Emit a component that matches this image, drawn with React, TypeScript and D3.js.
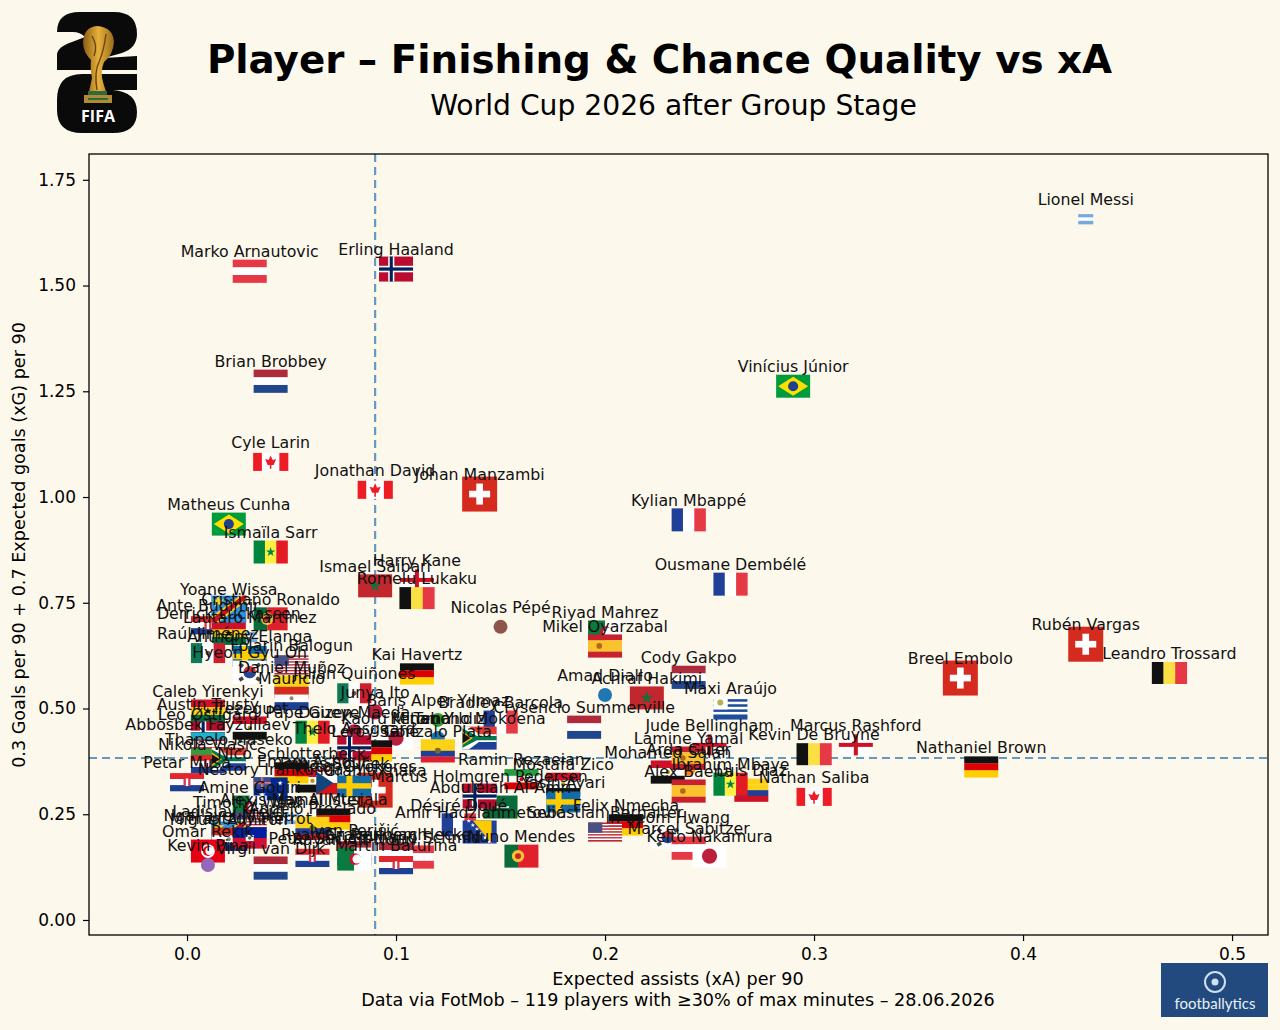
import { useEffect, useRef } from 'react'
import * as d3 from 'd3'

const width = 1280
const height = 1030
const bg = '#fdf8ec'
const font = '"DejaVu Sans", sans-serif'

const xTicks = [0, 0.1, 0.2, 0.3, 0.4, 0.5]
const yTicks = [0, 0.25, 0.5, 0.75, 1, 1.25, 1.5, 1.75]
const xMedian = 0.09
const yMedian = 0.383

const playerNames = [
  "Lionel Messi", "Marko Arnautovic", "Erling Haaland", "Brian Brobbey", "Vinícius Júnior", "Cyle Larin", "Jonathan David", "Johan Manzambi", "Kylian Mbappé", "Matheus Cunha",
  "Ismaïla Sarr", "Ousmane Dembélé", "Harry Kane", "Ismael Saibari", "Romelu Lukaku", "Nicolas Pépé", "Riyad Mahrez", "Mikel Oyarzabal", "Rubén Vargas", "Leandro Trossard",
  "Breel Embolo", "Kai Havertz", "Cody Gakpo", "Amad Diallo", "Achraf Hakimi", "Maxi Araújo", "Crysencio Summerville", "Barış Alper Yılmaz", "Bradley Barcola", "Junya Ito",
  "Daizen Maeda", "Kaoru Mitoma", "Kenan Yıldız", "Teboho Mokoena", "Gonzalo Plata", "Leroy Sané", "Thelo Aasgaard", "Ramin Rezaeian", "Mostafa Zico", "Yasin Ayari",
  "Abdulelah Al-Amri", "Marcus Holmgren Pedersen", "Désiré Doué", "Amir Hadžiahmetović", "Felix Nmecha", "Sebastian Berhalter", "In-beom Hwang", "Marcel Sabitzer", "Keito Nakamura", "Nuno Mendes",
  "Romano Schmid", "Jan Paul van Hecke", "Martin Baturina", "Arda Güler", "Mohamed Salah", "Jude Bellingham", "Lamine Yamal", "Alex Baena", "Luis Díaz", "Ibrahim Mbaye",
  "Nathan Saliba", "Kevin De Bruyne", "Marcus Rashford", "Nathaniel Brown", "Lautaro Martínez", "Ante Budimir", "Derrick Luckassen", "Yoane Wissa", "Cristiano Ronaldo", "Anthony Elanga",
  "Raúl Jiménez", "Hyeon Gyu Oh", "Daniel Muñoz", "Mauricio", "Folarin Balogun", "Julián Quiñones", "Austin Trusty", "Caleb Yirenkyi", "Leo Østigård", "Trezeguet",
  "Pape Gueye", "Abbosbek Fayzullaev", "Nikola Vlašić", "Thapelo Maseko", "Petar Musa", "Emam Ashour", "Nico Schlotterbeck", "Nestory Irankunda", "Tomáš Souček", "Granit Xhaka",
  "Viktor Gyökeres", "Amine Gouiri", "Alexis Mac Allister", "Timothy Weah", "Ladislav Krejčí", "Ngal'ayel Mukau", "Miguel Almirón", "Jamal Musiala", "Angelo Preciado", "Ivan Perišić",
  "Ryan Gravenberch", "Virgil van Dijk", "Petar Sučić", "Rayan Aït-Nouri", "Frantzdy Pierrot", "Omar Rekik", "Kevin Pina",
]

const playerNations = [
  "ARG", "AUT", "NOR", "NED", "BRA", "CAN", "CAN", "SUI", "FRA", "BRA",
  "SEN", "FRA", "ENG", "MAR", "BEL", "CIV", "ALG", "ESP", "SUI", "BEL",
  "SUI", "GER", "NED", "CIV", "MAR", "URU", "NED", "TUR", "FRA", "JPN",
  "JPN", "JPN", "TUR", "RSA", "ECU", "GER", "NOR", "IRN", "EGY", "SWE",
  "KSA", "NOR", "FRA", "BIH", "GER", "USA", "KOR", "AUT", "JPN", "POR",
  "AUT", "NED", "CRO", "TUR", "EGY", "ENG", "ESP", "ESP", "COL", "SEN",
  "CAN", "BEL", "ENG", "GER", "ARG", "CRO", "GHA", "COD", "POR", "SWE",
  "MEX", "KOR", "COL", "PAR", "USA", "MEX", "USA", "GHA", "NOR", "EGY",
  "SEN", "UZB", "CRO", "RSA", "CRO", "EGY", "GER", "AUS", "CZE", "SUI",
  "SWE", "ALG", "ARG", "USA", "CZE", "COD", "PAR", "GER", "ECU", "CRO",
  "NED", "NED", "CRO", "ALG", "HAI", "TUN", "CPV",
]

const xaPer90 = [
  0.43, 0.03, 0.10, 0.04, 0.29, 0.04, 0.09, 0.14, 0.24, 0.02,
  0.04, 0.26, 0.11, 0.09, 0.11, 0.15, 0.20, 0.20, 0.43, 0.47,
  0.37, 0.11, 0.24, 0.20, 0.22, 0.26, 0.19, 0.12, 0.15, 0.09,
  0.08, 0.10, 0.12, 0.14, 0.12, 0.09, 0.08, 0.16, 0.18, 0.18,
  0.15, 0.14, 0.13, 0.14, 0.21, 0.20, 0.23, 0.24, 0.25, 0.16,
  0.11, 0.10, 0.10, 0.24, 0.23, 0.25, 0.24, 0.24, 0.27, 0.26,
  0.30, 0.30, 0.32, 0.38, 0.03, 0.01, 0.02, 0.02, 0.04, 0.03,
  0.01, 0.03, 0.05, 0.05, 0.05, 0.08, 0.01, 0.01, 0.01, 0.03,
  0.06, 0.01, 0.01, 0.02, 0.00, 0.06, 0.05, 0.04, 0.07, 0.09,
  0.08, 0.03, 0.05, 0.03, 0.02, 0.02, 0.02, 0.07, 0.06, 0.08,
  0.08, 0.04, 0.06, 0.08, 0.03, 0.01, 0.01,
]

const finishingScore = [
  1.657, 1.534, 1.539, 1.274, 1.262, 1.083, 1.017, 1.007, 0.946, 0.936,
  0.870, 0.794, 0.804, 0.790, 0.761, 0.693, 0.681, 0.648, 0.652, 0.584,
  0.572, 0.582, 0.574, 0.532, 0.525, 0.501, 0.456, 0.473, 0.468, 0.492,
  0.445, 0.430, 0.430, 0.430, 0.400, 0.400, 0.407, 0.333, 0.321, 0.279,
  0.267, 0.293, 0.225, 0.208, 0.225, 0.208, 0.196, 0.170, 0.151, 0.151,
  0.149, 0.156, 0.130, 0.358, 0.350, 0.414, 0.383, 0.305, 0.307, 0.321,
  0.291, 0.392, 0.414, 0.362, 0.669, 0.697, 0.678, 0.735, 0.712, 0.623,
  0.631, 0.586, 0.551, 0.524, 0.603, 0.536, 0.463, 0.494, 0.440, 0.454,
  0.444, 0.416, 0.369, 0.380, 0.326, 0.329, 0.348, 0.310, 0.324, 0.307,
  0.317, 0.267, 0.239, 0.232, 0.210, 0.201, 0.191, 0.239, 0.217, 0.165,
  0.156, 0.123, 0.147, 0.144, 0.194, 0.163, 0.130,
]

// players without a flag image get a plain dot
const dotColors: Record<string, string> = {
  'Nicolas Pépé': '#8c564b',
  'Amad Diallo': '#1f77b4',
  'Kevin Pina': '#9467bd',
  'Barış Alper Yılmaz': '#2ca02c',
  'Kenan Yıldız': '#1f77b4',
  'Arda Güler': '#ff7f0e',
}

const flagSizes: Record<string, [number, number]> = {
  ARG: [15, 10], SUI: [35, 35], COD: [35, 27], NOR: [34, 25], CAN: [35, 18], CRO: [34, 18],
  USA: [34, 19], MEX: [34, 20], GER: [34, 21], BEL: [35, 22], SWE: [34, 21], ENG: [34, 21],
  HAI: [34, 21], IRN: [34, 20],
}

type Stripe = { dir: 'h' | 'v'; colors: string[] }
const flagStripes: Record<string, Stripe> = {
  ARG: { dir: 'h', colors: ['#75aadb', '#fff', '#75aadb'] },
  AUT: { dir: 'h', colors: ['#e63946', '#fff', '#e63946'] },
  NED: { dir: 'h', colors: ['#ae2b3c', '#fff', '#21468b'] },
  GER: { dir: 'h', colors: ['#111', '#dd0000', '#ffce00'] },
  FRA: { dir: 'v', colors: ['#1f3f99', '#fff', '#e63946'] },
  BEL: { dir: 'v', colors: ['#111', '#fae042', '#e63946'] },
  CAN: { dir: 'v', colors: ['#ee1c25', '#fff', '#fff', '#ee1c25'] },
  MEX: { dir: 'v', colors: ['#0b7a55', '#fff', '#ce1f30'] },
  SEN: { dir: 'v', colors: ['#00853f', '#fdef42', '#e31b23'] },
  CRO: { dir: 'h', colors: ['#e0272d', '#fff', '#1d3f94'] },
  PAR: { dir: 'h', colors: ['#d52b1e', '#fff', '#1d3f94'] },
  EGY: { dir: 'h', colors: ['#ce1126', '#fff', '#111'] },
  IRN: { dir: 'h', colors: ['#239f40', '#fff', '#da0000'] },
  GHA: { dir: 'h', colors: ['#ce1126', '#fcd116', '#006b3f'] },
  HAI: { dir: 'h', colors: ['#00209f', '#d21034'] },
  UZB: { dir: 'h', colors: ['#1eb1c9', '#fff', '#2e9e3f'] },
  ESP: { dir: 'h', colors: ['#c8202f', '#f9c22e', '#f9c22e', '#c8202f'] },
  COL: { dir: 'h', colors: ['#fcd116', '#fcd116', '#233f93', '#ce1126'] },
  ECU: { dir: 'h', colors: ['#fcd116', '#fcd116', '#1f3f99', '#e0202e'] },
}

function addStar(g: any, cx: number, cy: number, r: number, fill: string) {
  g.append('path')
    .attr('transform', `translate(${cx},${cy})`)
    .attr('d', d3.symbol(d3.symbolStar, Math.PI * r * r)())
    .attr('fill', fill)
}

function addRect(g: any, x: number, y: number, w: number, h: number, fill: string) {
  return g.append('rect').attr('x', x).attr('y', y).attr('width', w).attr('height', h).attr('fill', fill)
}

function addDisc(g: any, cx: number, cy: number, r: number, fill: string) {
  return g.append('circle').attr('cx', cx).attr('cy', cy).attr('r', r).attr('fill', fill)
}

function addPoly(g: any, pts: number[][], fill: string) {
  return g.append('polygon').attr('points', pts.map((p) => p.join(',')).join(' ')).attr('fill', fill)
}

function nordicCross(g: any, w: number, h: number, base: string, outer: string, inner?: string) {
  const cx = w * 0.36
  addRect(g, 0, 0, w, h, base)
  addRect(g, cx - w * 0.09, 0, w * 0.18, h, outer)
  addRect(g, 0, h / 2 - h * 0.13, w, h * 0.26, outer)
  if (inner) {
    addRect(g, cx - w * 0.045, 0, w * 0.09, h, inner)
    addRect(g, 0, h / 2 - h * 0.065, w, h * 0.13, inner)
  }
}

function crescent(g: any, cx: number, cy: number, r: number, color: string, back: string) {
  addDisc(g, cx, cy, r, color)
  addDisc(g, cx + r * 0.3, cy, r * 0.78, back)
}

// one flag, drawn in a w x h box with its corner at 0,0
function drawFlag(g: any, code: string, w: number, h: number) {
  const stripe = flagStripes[code]
  if (stripe) {
    const along = stripe.dir === 'h' ? h : w
    const band = d3.scaleBand<number>().domain(d3.range(stripe.colors.length)).range([0, along])
    stripe.colors.forEach((c, i) => {
      if (stripe.dir === 'h') addRect(g, 0, band(i)!, w, band.bandwidth() + 0.2, c)
      else addRect(g, band(i)!, 0, band.bandwidth() + 0.2, h, c)
    })
  }
  const mx = w / 2
  const my = h / 2
  switch (code) {
    case 'CAN': {
      addPoly(g, [[mx, h * 0.14], [mx + 2, my - 2], [mx + 5.5, my - 3], [mx + 3, my + 3], [mx + 0.8, my + 3], [mx + 0.8, h * 0.88], [mx - 0.8, h * 0.88], [mx - 0.8, my + 3], [mx - 3, my + 3], [mx - 5.5, my - 3], [mx - 2, my - 2]], '#ee1c25')
      break
    }
    case 'MEX': addDisc(g, mx, my, 2.4, '#7a5a3a'); break
    case 'SEN': addStar(g, mx, my, 3, '#00853f'); break
    case 'GHA': addStar(g, mx, my, 2.4, '#111'); break
    case 'CRO':
      addRect(g, mx - 3.5, h * 0.3, 7, h * 0.42, '#d8344a')
      addRect(g, mx - 1.2, h * 0.3, 2.4, h * 0.42, '#fff')
      break
    case 'PAR': addDisc(g, mx, my, 2, '#8a8a6a'); break
    case 'EGY': addDisc(g, mx, my, 2.2, '#c09300'); break
    case 'IRN': addDisc(g, mx, my, 2, '#da0000'); break
    case 'HAI':
      addRect(g, mx - 4, my - 3, 8, 6, '#fff')
      addDisc(g, mx, my, 1.8, '#4a7a4a')
      break
    case 'UZB':
      addRect(g, 0, h / 3 - 0.7, w, 1.4, '#ce1126')
      addRect(g, 0, (2 * h) / 3 - 0.7, w, 1.4, '#ce1126')
      break
    case 'ESP': addDisc(g, w * 0.33, my, 2.8, '#b5651d'); break
    case 'ECU': addDisc(g, mx, my, 3, '#7a6a2a'); break
    case 'NOR': nordicCross(g, w, h, '#ba0c2f', '#fff', '#00205b'); break
    case 'SWE': nordicCross(g, w, h, '#126ca8', '#fecc00'); break
    case 'ENG':
      addRect(g, 0, 0, w, h, '#fff')
      addRect(g, mx - 2, 0, 4, h, '#ce1124')
      addRect(g, 0, my - 2, w, 4, '#ce1124')
      break
    case 'SUI': {
      addRect(g, 0, 0, w, h, '#d52b1e')
      const a = w * 0.6
      const b = w * 0.19
      addRect(g, mx - a / 2, my - b / 2, a, b, '#fff')
      addRect(g, mx - b / 2, my - a / 2, b, a, '#fff')
      break
    }
    case 'BRA':
      addRect(g, 0, 0, w, h, '#009b3a')
      addPoly(g, [[mx, 2], [w - 2, my], [mx, h - 2], [2, my]], '#fedf00')
      addDisc(g, mx, my, h * 0.22, '#1f3f8f')
      break
    case 'JPN':
      addRect(g, 0, 0, w, h, '#fff')
      addDisc(g, mx, my, h * 0.33, '#bc1f3c')
      break
    case 'MAR':
      addRect(g, 0, 0, w, h, '#c1272d')
      addStar(g, mx, my, 4, '#1d6a3a')
      break
    case 'COD':
      addRect(g, 0, 0, w, h, '#2f8fe0')
      addPoly(g, [[0, h], [0, h * 0.78], [w * 0.82, 0], [w, 0], [w, h * 0.2], [w * 0.2, h]], '#f7d618')
      addPoly(g, [[0, h], [0, h * 0.88], [w * 0.9, 0], [w, 0], [w, h * 0.1], [w * 0.12, h]], '#ce1021')
      addStar(g, w * 0.2, h * 0.22, 4, '#f7d618')
      break
    case 'KOR':
      addRect(g, 0, 0, w, h, '#fff')
      addDisc(g, mx, my, h * 0.27, '#cd2e3a')
      g.append('path')
        .attr('d', `M${mx - h * 0.27},${my} A${h * 0.27},${h * 0.27} 0 0 0 ${mx + h * 0.27},${my} Z`)
        .attr('fill', '#1f4a9c')
      ;[[-1, -1], [1, -1], [-1, 1], [1, 1]].forEach(([sx, sy]) => {
        g.append('rect')
          .attr('x', mx + sx * w * 0.25 - 2.2)
          .attr('y', my + sy * h * 0.3 - 1.8)
          .attr('width', 4.4)
          .attr('height', 3.6)
          .attr('fill', '#444')
          .attr('transform', `rotate(${sx * sy * 35},${mx + sx * w * 0.25},${my + sy * h * 0.3})`)
      })
      break
    case 'USA': {
      const rows = d3.range(13)
      const sh = h / 13
      rows.forEach((i) => addRect(g, 0, i * sh, w, sh + 0.1, i % 2 ? '#fff' : '#b22234'))
      addRect(g, 0, 0, w * 0.42, sh * 7, '#4a4f86')
      break
    }
    case 'RSA':
      addRect(g, 0, 0, w, h / 2, '#e03c31')
      addRect(g, 0, h / 2, w, h / 2, '#1f3f99')
      addPoly(g, [[0, 0], [w * 0.18, 0], [w * 0.48, h * 0.33], [w, h * 0.33], [w, h * 0.67], [w * 0.48, h * 0.67], [w * 0.18, h], [0, h]], '#fff')
      addPoly(g, [[0, h * 0.08], [w * 0.42, h * 0.41], [w, h * 0.41], [w, h * 0.59], [w * 0.42, h * 0.59], [0, h * 0.92]], '#007a4d')
      addPoly(g, [[0, h * 0.2], [w * 0.3, my], [0, h * 0.8]], '#fcb514')
      addPoly(g, [[0, h * 0.28], [w * 0.23, my], [0, h * 0.72]], '#111')
      break
    case 'ALG':
      addRect(g, 0, 0, w / 2, h, '#0a7a3e')
      addRect(g, w / 2, 0, w / 2, h, '#fff')
      crescent(g, mx + 1, my, h * 0.25, '#d21034', '#fff')
      break
    case 'TUN':
      addRect(g, 0, 0, w, h, '#e70013')
      addDisc(g, mx, my, h * 0.3, '#fff')
      crescent(g, mx, my, h * 0.22, '#e70013', '#fff')
      break
    case 'POR':
      addRect(g, 0, 0, w * 0.4, h, '#0a6a3a')
      addRect(g, w * 0.4, 0, w * 0.6, h, '#e0202a')
      addDisc(g, w * 0.4, my, h * 0.27, '#f2c230')
      addDisc(g, w * 0.4, my, h * 0.13, '#c8202f')
      break
    case 'URU':
      addRect(g, 0, 0, w, h, '#fff')
      d3.range(1, 9, 2).forEach((i) => addRect(g, 0, (i * h) / 9, w, h / 9, '#1f4f9c'))
      addRect(g, 0, (8 * h) / 9 - 0.5, w, h / 9 + 0.5, '#1f4f9c')
      addRect(g, 0, 0, w * 0.42, (5 * h) / 9, '#fff')
      addDisc(g, w * 0.2, h * 0.26, 3, '#b8b052')
      break
    case 'AUS':
      addRect(g, 0, 0, w, h, '#012a8f')
      addRect(g, 0, 0, w / 2, h / 2, '#3a4a8f')
      addRect(g, w / 4 - 1, 0, 2, h / 2, '#ddd')
      addRect(g, 0, h / 4 - 1, w / 2, 2, '#ddd')
      addRect(g, w / 4 - 0.5, 0, 1, h / 2, '#c8102e')
      addRect(g, 0, h / 4 - 0.5, w / 2, 1, '#c8102e')
      addStar(g, w / 4, h * 0.75, 2.2, '#fff')
      addStar(g, w * 0.78, h * 0.25, 1.6, '#fff')
      addStar(g, w * 0.78, h * 0.75, 1.6, '#fff')
      break
    case 'CZE':
      addRect(g, 0, 0, w, h / 2, '#fff')
      addRect(g, 0, h / 2, w, h / 2, '#d7141a')
      addPoly(g, [[0, 0], [w * 0.5, my], [0, h]], '#11457e')
      break
    case 'BIH':
      addRect(g, 0, 0, w, h, '#1f3f99')
      addPoly(g, [[w * 0.3, 0], [w * 0.85, 0], [w * 0.85, h]], '#fecb00')
      d3.range(6).forEach((i) => addStar(g, w * (0.18 + i * 0.12), h * (0.02 + i * 0.18), 1.4, '#fff'))
      break
    case 'KSA':
      addRect(g, 0, 0, w, h, '#0a6b3a')
      addRect(g, w * 0.25, my - 1, w * 0.5, 2, '#dfe8df')
      break
  }
}

export default function App() {
  const svgRef = useRef<SVGSVGElement>(null)

  useEffect(() => {
    if (!svgRef.current) return

    const svg = d3.select(svgRef.current)
    svg.selectAll('*').remove()

    svg.append('rect').attr('width', width).attr('height', height).attr('fill', bg)

    const margin = { top: 154, right: 12, bottom: 95, left: 89 }
    const x = d3.scaleLinear().domain([-0.0469, 0.5172]).range([margin.left, width - margin.right])
    const y = d3.scaleLinear().domain([-0.0355, 1.811]).range([height - margin.bottom, margin.top])

    // title block
    svg.append('text').attr('x', 659.5).attr('y', 73).attr('text-anchor', 'middle')
      .style('font-family', font).style('font-size', '38.8px').style('font-weight', 700)
      .text('Player – Finishing & Chance Quality vs xA')
    svg.append('text').attr('x', 673.5).attr('y', 115).attr('text-anchor', 'middle')
      .style('font-family', font).style('font-size', '28.2px')
      .text('World Cup 2026 after Group Stage')

    drawFifaLogo(svg)

    // reference lines
    const refs = svg.append('g').attr('stroke', '#6499c2').attr('stroke-width', 2.2).attr('stroke-dasharray', '8,5')
    refs.append('line').attr('x1', x(xMedian)).attr('x2', x(xMedian)).attr('y1', margin.top).attr('y2', height - margin.bottom)
    refs.append('line').attr('x1', margin.left).attr('x2', width - margin.right).attr('y1', y(yMedian)).attr('y2', y(yMedian))

    // axes
    const xAxis = d3.axisBottom(x).tickValues(xTicks).tickFormat(d3.format('.1f')).tickSizeOuter(0).tickSize(6).tickPadding(7)
    const yAxis = d3.axisLeft(y).tickValues(yTicks).tickFormat(d3.format('.2f')).tickSizeOuter(0).tickSize(6).tickPadding(7)
    const gx = svg.append('g').attr('transform', `translate(0,${height - margin.bottom})`).call(xAxis)
    const gy = svg.append('g').attr('transform', `translate(${margin.left},0)`).call(yAxis)
    for (const a of [gx, gy]) {
      a.select('.domain').remove()
      a.selectAll('text').style('font-family', font).style('font-size', '17px').style('fill', '#000')
      a.selectAll('line').attr('stroke', '#000').attr('stroke-width', 1.2)
    }

    svg.append('text').attr('x', 678).attr('y', 985).attr('text-anchor', 'middle')
      .style('font-family', font).style('font-size', '17.6px')
      .text('Expected assists (xA) per 90')
    svg.append('text').attr('x', 678).attr('y', 1006).attr('text-anchor', 'middle')
      .style('font-family', font).style('font-size', '17.6px')
      .text('Data via FotMob – 119 players with ≥30% of max minutes – 28.06.2026')
    svg.append('text').attr('transform', `translate(25,545) rotate(-90)`).attr('text-anchor', 'middle')
      .style('font-family', font).style('font-size', '17.6px')
      .text('0.3 Goals per 90 + 0.7 Expected goals (xG) per 90')

    // flags first, names on top of them
    const rows = d3.range(playerNames.length)
    const flags = svg.append('g')
    rows.forEach((i) => {
      const px = x(xaPer90[i])
      const py = y(finishingScore[i])
      const dot = dotColors[playerNames[i]]
      if (dot) {
        flags.append('circle').attr('cx', px).attr('cy', py).attr('r', 7).attr('fill', dot)
        return
      }
      const [w, h] = flagSizes[playerNations[i]] || [34, 23]
      const g = flags.append('g').attr('transform', `translate(${px - w / 2},${py - h / 2})`)
      drawFlag(g, playerNations[i], w, h)
    })

    svg.append('g').selectAll('text').data(rows).join('text')
      .attr('x', (i) => x(xaPer90[i]))
      .attr('y', (i) => y(finishingScore[i]) - 14)
      .attr('text-anchor', 'middle')
      .style('font-family', font).style('font-size', '15.8px').style('fill', '#111')
      .text((i) => playerNames[i])

    svg.append('rect')
      .attr('x', margin.left).attr('y', margin.top)
      .attr('width', width - margin.left - margin.right).attr('height', height - margin.top - margin.bottom)
      .attr('fill', 'none').attr('stroke', '#000').attr('stroke-width', 1.3)

    drawBadge(svg)
  }, [])

  return (
    <div style={{ position: 'absolute', left: 0, top: 0 }}>
      <svg ref={svgRef} width={width} height={height} style={{ display: 'block' }} />
    </div>
  )
}

function drawFifaLogo(svg: any) {
  const g = svg.append('g')
  g.append('path').attr('fill', '#0a0a0a')
    .attr('d', 'M57 32 Q57 12 80 12 L114 12 Q137 12 137 34 Q137 48 122 53 L104 58 L137 56 L137 70 L57 70 L57 55 Q57 47 72 42 L85 37 Q80 32 73 32 Z')
  g.append('path').attr('fill', '#0a0a0a')
    .attr('d', 'M57 100 Q57 74 82 74 L137 74 L137 90 L113 90 Q137 92 137 112 Q137 133 113 133 L82 133 Q57 133 57 110 Z')
  const grad = svg.append('defs').append('linearGradient').attr('id', 'gold').attr('x1', 0).attr('x2', 1)
  grad.append('stop').attr('offset', 0).attr('stop-color', '#8a5a14')
  grad.append('stop').attr('offset', 0.5).attr('stop-color', '#e6b13c')
  grad.append('stop').attr('offset', 1).attr('stop-color', '#9a6a18')
  g.append('path').attr('fill', 'url(#gold)')
    .attr('d', 'M97 26 Q113 27 114 42 Q113 55 104 62 Q100 72 103 82 L106 92 L89 92 L92 78 Q90 68 91 60 Q83 52 83 42 Q84 27 97 26 Z')
  g.append('path').attr('fill', 'none').attr('stroke', '#6a4510').attr('stroke-width', 1.4)
    .attr('d', 'M92 36 Q98 46 94 56 M106 34 Q104 50 99 62 Q94 72 97 90')
  g.append('rect').attr('x', 88).attr('y', 91).attr('width', 19).attr('height', 4).attr('fill', '#2f6a3a')
  g.append('rect').attr('x', 84).attr('y', 95).attr('width', 28).attr('height', 8).attr('fill', '#b08a34')
  g.append('rect').attr('x', 88).attr('y', 98).attr('width', 20).attr('height', 2).attr('fill', '#2f6a3a')
  g.append('text').attr('x', 98).attr('y', 122).attr('text-anchor', 'middle').attr('fill', '#fff')
    .style('font-family', '"Open Sans", sans-serif').style('font-weight', 700).style('font-size', '16px')
    .text('FIFA')
}

function drawBadge(svg: any) {
  const g = svg.append('g')
  g.append('rect').attr('x', 1161).attr('y', 963).attr('width', 107).attr('height', 54).attr('fill', '#224a7f')
  g.append('circle').attr('cx', 1215).attr('cy', 982).attr('r', 10).attr('fill', 'none').attr('stroke', '#cfe0f0').attr('stroke-width', 2)
  g.append('circle').attr('cx', 1215).attr('cy', 982).attr('r', 3.5).attr('fill', '#cfe0f0')
  g.append('text').attr('x', 1215).attr('y', 1009).attr('text-anchor', 'middle').attr('fill', '#e8f0f8')
    .style('font-family', 'Lato, sans-serif').style('font-size', '15px')
    .text('footballytics')
}
